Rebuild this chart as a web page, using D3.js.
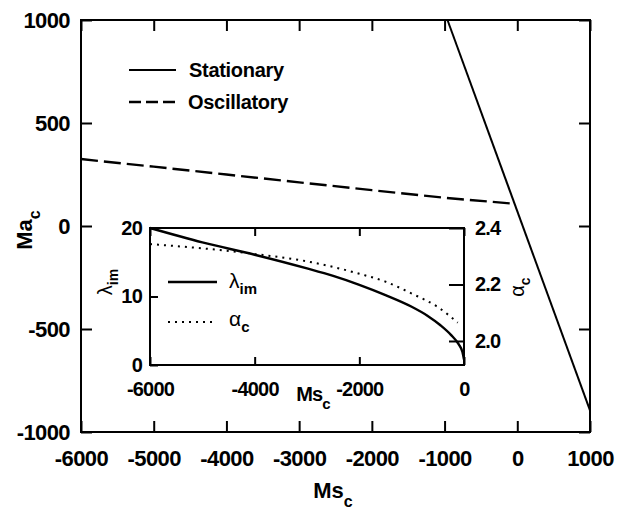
<!DOCTYPE html>
<html><head><meta charset="utf-8">
<script src="https://cdn.jsdelivr.net/npm/d3@7/dist/d3.min.js"></script>
<style>
body{margin:0;background:#fff;}
svg text{font-family:"Liberation Sans",Arial,sans-serif;fill:#000;}
</style></head>
<body><svg id="c" width="624" height="512"></svg>
<script>
// ---- data ----
const stationaryMs = [-960, 1000];
const stationaryMa = [1000, -895];
const oscillatoryMs = [-6000, -5000, -4000, -3000, -2000, -1000, -40];
const oscillatoryMa = [325, 288, 250, 212, 174, 137, 108];
const insetMs = [-6000, -5000, -4000, -3000, -2500, -2000, -1500, -1000, -700, -450, -250, -100, -30, 0];
const lambdaIm = [20.0, 17.9, 16.1, 14.1, 13.0, 11.7, 10.2, 8.5, 7.2, 5.8, 4.4, 3.0, 1.9, 0.8];
const alphaMs = [-6000, -5000, -4000, -3000, -2000, -1500, -1000, -500, -120];
const alphaC = [2.343, 2.328, 2.308, 2.282, 2.238, 2.21, 2.168, 2.12, 2.065];
const mainXTicks = [-6000, -5000, -4000, -3000, -2000, -1000, 0, 1000];
const mainYTicks = [-1000, -500, 0, 500, 1000];
const insetXTicks = [-6000, -4000, -2000, 0];
const insetLTicks = [0, 10, 20];
const insetRTicks = [2.0, 2.2, 2.4];

const svg = d3.select("#c");
const M = {l:81, r:590, t:20, b:432};
const I = {l:150, r:464, t:228, b:365};

const x = d3.scaleLinear().domain([-6000, 1000]).range([M.l, M.r]);
const y = d3.scaleLinear().domain([-1000, 1000]).range([M.b, M.t]);
const xi = d3.scaleLinear().domain([-6000, 0]).range([I.l, I.r]);
const yl = d3.scaleLinear().domain([0, 20]).range([I.b, I.t]);
const yr = d3.scaleLinear().domain([1.915, 2.4]).range([I.b, I.t]);

const fmtInt = d => String(d);
function axisG(gen, tr){ return svg.append("g").attr("transform", tr).call(gen); }
const tk = 11;
const xb = axisG(d3.axisBottom(x).tickValues(mainXTicks).tickSize(-tk).tickPadding(18).tickFormat(fmtInt), `translate(0,${M.b})`);
const xt = axisG(d3.axisTop(x).tickValues(mainXTicks).tickSize(-tk).tickFormat(""), `translate(0,${M.t})`);
const yL = axisG(d3.axisLeft(y).tickValues(mainYTicks).tickSize(-tk).tickPadding(11).tickFormat(fmtInt), `translate(${M.l},0)`);
const yR = axisG(d3.axisRight(y).tickValues(mainYTicks).tickSize(-tk).tickFormat(""), `translate(${M.r},0)`);
[xb,xt,yL,yR].forEach(g=>{
  g.select(".domain").remove();
  g.selectAll(".tick line").attr("stroke","#000").attr("stroke-width",2);
  g.selectAll("text").attr("font-size",22).attr("font-weight","bold").attr("letter-spacing",-0.6);
});
svg.append("rect").attr("x",M.l).attr("y",M.t).attr("width",M.r-M.l).attr("height",M.b-M.t)
  .attr("fill","none").attr("stroke","#000").attr("stroke-width",2);

// main lines
const line = d3.line().x(d=>x(d[0])).y(d=>y(d[1]));
svg.append("path").datum(stationaryMs.map((m,i)=>[m,stationaryMa[i]]))
  .attr("d",line).attr("fill","none").attr("stroke","#000").attr("stroke-width",2);
svg.append("path").datum(oscillatoryMs.map((m,i)=>[m,oscillatoryMa[i]]))
  .attr("d",line).attr("fill","none").attr("stroke","#000").attr("stroke-width",2.4)
  .attr("stroke-dasharray","17,6");

// legend
const lg = svg.append("g");
lg.append("line").attr("x1",129).attr("x2",176).attr("y1",70).attr("y2",70).attr("stroke","#000").attr("stroke-width",2);
lg.append("line").attr("x1",129).attr("x2",176).attr("y1",102).attr("y2",102).attr("stroke","#000").attr("stroke-width",2.4).attr("stroke-dasharray","12,5");
lg.append("text").attr("x",189).attr("y",77).attr("font-size",20).attr("font-weight","bold").attr("letter-spacing",-0.3).text("Stationary");
lg.append("text").attr("x",188).attr("y",109).attr("font-size",20).attr("font-weight","bold").attr("letter-spacing",-0.3).text("Oscillatory");

// axis titles
const t1 = svg.append("text").attr("transform","translate(32,230) rotate(-90)").attr("text-anchor","middle")
  .attr("font-size",22).attr("font-weight","bold");
t1.append("tspan").text("Ma");
t1.append("tspan").attr("font-size",16).attr("dy",8).text("c");
const t2 = svg.append("text").attr("x",333).attr("y",498).attr("text-anchor","middle")
  .attr("font-size",22).attr("font-weight","bold");
t2.append("tspan").text("Ms");
t2.append("tspan").attr("font-size",16).attr("dy",9).text("c");

// inset
svg.append("rect").attr("x",I.l).attr("y",I.t).attr("width",I.r-I.l).attr("height",I.b-I.t).attr("fill","#fff");
const ixb = axisG(d3.axisBottom(xi).tickValues(insetXTicks).tickSize(-8).tickPadding(17).tickFormat(fmtInt), `translate(0,${I.b})`);
const ixt = axisG(d3.axisTop(xi).tickValues(insetXTicks).tickSize(-8).tickFormat(""), `translate(0,${I.t})`);
const iyl = axisG(d3.axisLeft(yl).tickValues(insetLTicks).tickSize(-8).tickPadding(8).tickFormat(fmtInt), `translate(${I.l},0)`);
const iyr = axisG(d3.axisRight(yr).tickValues(insetRTicks).tickSize(-15).tickPadding(11).tickFormat(d3.format(".1f")), `translate(${I.r},0)`);
[ixb,ixt,iyl,iyr].forEach(g=>{
  g.select(".domain").remove();
  g.selectAll(".tick line").attr("stroke","#000").attr("stroke-width",2);
  g.selectAll("text").attr("font-size",20).attr("font-weight","bold").attr("letter-spacing",-0.8);
});
svg.append("rect").attr("x",I.l).attr("y",I.t).attr("width",I.r-I.l).attr("height",I.b-I.t)
  .attr("fill","none").attr("stroke","#000").attr("stroke-width",2);

const lineL = d3.line().x(d=>xi(d[0])).y(d=>yl(d[1])).curve(d3.curveMonotoneX);
const lineR = d3.line().x(d=>xi(d[0])).y(d=>yr(d[1])).curve(d3.curveMonotoneX);
svg.append("path").datum(insetMs.map((m,i)=>[m,lambdaIm[i]])).attr("d",lineL)
  .attr("fill","none").attr("stroke","#000").attr("stroke-width",2.4);
svg.append("path").datum(alphaMs.map((m,i)=>[m,alphaC[i]])).attr("d",lineR)
  .attr("fill","none").attr("stroke","#000").attr("stroke-width",2).attr("stroke-dasharray","2,5");

// inset legend
svg.append("line").attr("x1",168).attr("x2",217).attr("y1",282).attr("y2",282).attr("stroke","#000").attr("stroke-width",2.4);
svg.append("line").attr("x1",168).attr("x2",217).attr("y1",322).attr("y2",322).attr("stroke","#000").attr("stroke-width",2).attr("stroke-dasharray","2,5");
const l1 = svg.append("text").attr("x",229).attr("y",288).attr("font-size",21);
l1.append("tspan").text("λ");
l1.append("tspan").attr("font-size",15).attr("font-weight","bold").attr("dy",6).text("im");
const l2 = svg.append("text").attr("x",229).attr("y",326).attr("font-size",21);
l2.append("tspan").text("α");
l2.append("tspan").attr("font-size",15).attr("font-weight","bold").attr("dy",6).text("c");

// inset axis titles
const it1 = svg.append("text").attr("transform","translate(112,282) rotate(-90)").attr("text-anchor","middle").attr("font-size",20);
it1.append("tspan").text("λ");
it1.append("tspan").attr("font-size",14).attr("font-weight","bold").attr("dy",6).text("im");
const it2 = svg.append("text").attr("transform","translate(524,287) rotate(-90)").attr("text-anchor","middle").attr("font-size",20);
it2.append("tspan").text("α");
it2.append("tspan").attr("font-size",14).attr("font-weight","bold").attr("dy",6).text("c");
const it3 = svg.append("text").attr("x",313).attr("y",401).attr("text-anchor","middle").attr("font-size",20).attr("font-weight","bold").attr("letter-spacing",-0.8);
it3.append("tspan").text("Ms");
it3.append("tspan").attr("font-size",15).attr("dy",8).text("c");
</script></body></html>
